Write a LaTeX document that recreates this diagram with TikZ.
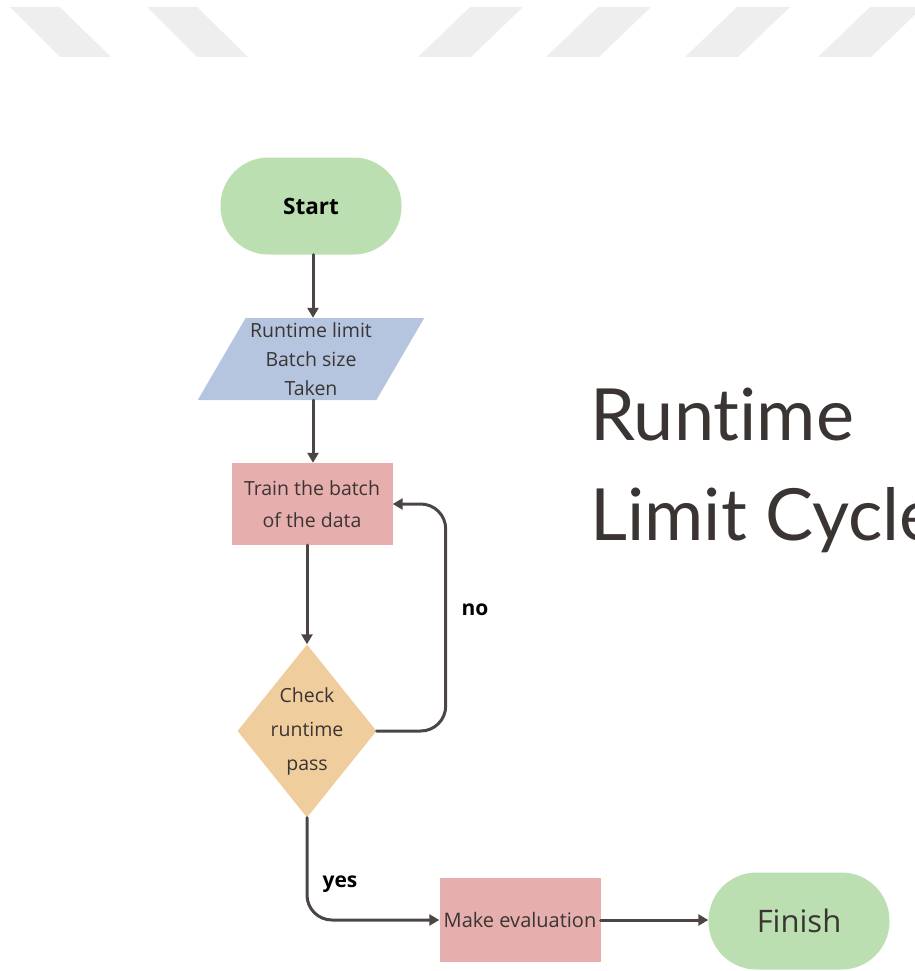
\documentclass[tikz,border=0pt]{standalone}
\usepackage{fontspec}
\setmainfont{Open Sans}
\newfontfamily\titlefont[Ligatures=NoCommon]{Lato}
\usetikzlibrary{arrows.meta,calc,positioning,shapes.geometric}

\definecolor{startgreen}{HTML}{BBDFB0}
\definecolor{inputblue}{HTML}{B5C5DF}
\definecolor{trainpink}{HTML}{E6AFAE}
\definecolor{checkorange}{HTML}{F0CD9D}
\definecolor{arrowgray}{HTML}{4B4643}
\definecolor{textgray}{HTML}{3A3533}
\definecolor{stripegray}{HTML}{EEEEEE}

\begin{document}
\begin{tikzpicture}[x=1pt,y=-1pt,line cap=round]
		\tikzstyle{terminal}=[fill=startgreen,rounded corners=48pt,minimum width=181pt,minimum height=97pt,inner sep=0pt]
		\tikzstyle{process}=[fill=trainpink,minimum width=161pt,minimum height=82pt,inner sep=0pt,align=center,text=textgray,font=\fontsize{19.5}{32}\selectfont]
		\tikzstyle{flow}=[-{Triangle[length=10pt,width=11pt,fill=arrowgray]},draw=arrowgray,line width=3pt]
		\tikzstyle{answer}=[font=\fontsize{21}{24}\selectfont\bfseries,text=black]
		\tikzstyle{heading}=[anchor=base west,inner sep=0pt,text=textgray,font=\titlefont\fontsize{72}{100}\selectfont]
		\useasboundingbox (0,0) rectangle (914,971);

		%stripes
		\foreach \a in {10,147}
			\fill[stripegray] (\a,7) -- ++(50,0) -- ++(51,50) -- ++(-51,0) -- cycle;
		\foreach \a in {470,598,737,870}
			\fill[stripegray] (\a,7) -- ++(53,0) -- ++(-52,50) -- ++(-53,0) -- cycle;

		%nodes
		\node[terminal,font=\fontsize{22.5}{26}\selectfont\bfseries] (start) at (311,206) {Start};
		\node[trapezium,trapezium stretches=true,trapezium left angle=58.6,trapezium right angle=121.4,
			fill=inputblue,minimum width=227pt,minimum height=82pt,inner sep=0pt,align=center,
			text=textgray,font=\fontsize{19.5}{29}\selectfont] (input) at (311,359) {Runtime limit\\Batch size\\Taken};
		\node[process] (train) at (312,504) {Train the batch\\of the data};
		\node[diamond,aspect=0.8,fill=checkorange,minimum width=139pt,minimum height=173pt,
			inner xsep=6pt,inner ysep=-17pt,align=center,
			text=textgray,font=\fontsize{19.5}{34}\selectfont] (check) at (307,731) {Check\\runtime\\pass};
		\node[process,minimum height=84pt,font=\fontsize{20}{24}\selectfont] (eval) at (520,920) {Make evaluation};
		\node[terminal,font=\fontsize{31}{34}\selectfont,text=textgray] (finish) at (799,921) {Finish};

		%title
		\node[heading] (title1) at (590,440) {Runtime};
		\node[heading] (title2) at (590,540) {Limit Cycle};

		%arrows
		\draw[flow] (start.south -| 313,0) -- (input.north -| 313,0);
		\draw[flow] (input.south -| 313,0) -- (train.north -| 313,0);
		\draw[flow] (train.south -| check.north) -- (check.north);
		\draw[flow,rounded corners=25pt] (check.east) -- ++(69,0) |- (train.east);
		\draw[flow,rounded corners=25pt] (check.south) |- (eval.west);
		\draw[flow] (eval.east) -- (eval.east -| finish.west);

		%labels
		\node[answer] (no) at (475,610) {no};
		\node[answer] (yes) at (340,884) {yes};
	\end{tikzpicture}
\end{document}
